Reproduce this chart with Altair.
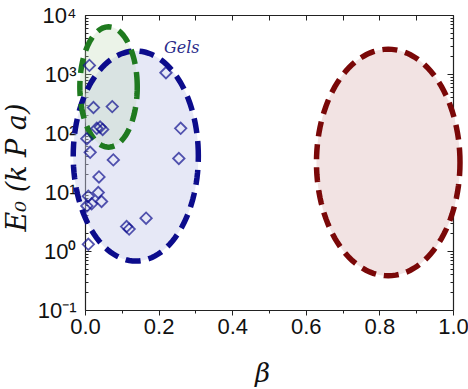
import numpy as np
import pandas as pd
import altair as alt

# ---- ellipse annotations: center (beta, log10 E0), half-width (beta), half-height (decades)
ell_names = ["gels", "green", "red"]
ell_cx = [0.138, 0.064, 0.824]
ell_cy = [1.61, 2.78, 1.50]
ell_rx = [0.170, 0.078, 0.195]
ell_ry = [1.78, 1.02, 1.92]
ell_stroke = ["#0c0c8c", "#1f7a1f", "#7a0808"]
ell_fill = ["#c8cdeb", "#bed7b4", "#f2e3e3"]
ell_fill_op = [0.45, 0.30, 1.0]

# ---- gel data points
pt_beta = [0.012, 0.023, 0.074, 0.032, 0.041, 0.048, 0.014, 0.005, 0.077, 0.038, 0.036,
           0.009, 0.045, 0.018, 0.005, 0.113, 0.120, 0.166, 0.009, 0.220, 0.260, 0.255]
pt_E0 = [1400, 270, 280, 120, 126, 115, 47, 80, 35, 18, 9.8,
         8.5, 6.9, 6.3, 5.8, 2.6, 2.35, 3.6, 1.3, 1050, 120, 37]

# ---- axis ticks
x_ticks = [0.0, 0.1, 0.2, 0.3, 0.4, 0.5, 0.6, 0.7, 0.8, 0.9, 1.0]
y_major = [0.1, 1, 10, 100, 1000, 10000]
y_minor = [round(m * 10.0 ** k, 6) for k in range(-1, 4) for m in range(2, 10)]
y_all = sorted(y_major + y_minor)

W, H = 368, 295
AX = "#222222"

def ellipse_df(k):
    t = np.linspace(0, 2 * np.pi, 121)
    return pd.DataFrame({
        "i": np.arange(len(t)),
        "beta": ell_cx[k] + ell_rx[k] * np.cos(t),
        "E0": 10 ** (ell_cy[k] + ell_ry[k] * np.sin(t)),
    })

xscale = alt.Scale(domain=[0, 1], nice=False, zero=False)
yscale = alt.Scale(type="log", domain=[0.1, 10000], nice=False)

ylab = ("datum.value < 0.5 ? '10⁻¹' : datum.value < 5 ? '10⁰' : datum.value < 50 ? '10¹' : "
        "datum.value < 500 ? '10²' : datum.value < 5000 ? '10³' : '10⁴'")
ymajor_test = "indexof([0.1,1,10,100,1000,10000], datum.value) >= 0"
xmajor_test = "round(datum.value*10) % 2 == 0"

ax_x_bottom = alt.Axis(
    values=x_ticks, grid=False, labelOverlap=False, labelFlush=False,
    labelExpr=f"{xmajor_test} ? format(datum.value, '.1f') : ''",
    tickSize={"condition": {"test": xmajor_test, "value": 5}, "value": 3},
    tickColor=AX, domainColor=AX, domainWidth=1.2,
    labelFont="Liberation Sans", labelFontSize=22, labelColor="#111", labelPadding=1,
    title="β", titleFont="DejaVu Serif", titleFontStyle="italic", titleFontWeight="normal",
    titleFontSize=26, titleColor="#111", titleX=177, titleY=63, titleBaseline="middle")
ax_x_top = alt.Axis(orient="bottom", offset=-H, values=x_ticks, grid=False, labels=False,
                    tickSize=5, tickColor=AX, domainColor=AX, domainWidth=1.2, title=None)
ax_y_left = alt.Axis(
    orient="left", values=y_major, grid=False, ticks=False, labelExpr=ylab,
    domainColor=AX, domainWidth=1.2, labelOverlap=False,
    labelFont="Liberation Sans", labelFontSize=22, labelColor="#111", labelPadding=9,
    title="E₀ (k P a)", titleFont="DejaVu Serif", titleFontStyle="italic", titleFontWeight="normal",
    titleFontSize=27, titleColor="#111", titleX=-68, titleY=152, titleBaseline="middle")
ysize = {"condition": {"test": ymajor_test, "value": 6}, "value": 3}
ax_y_in_left = alt.Axis(orient="right", offset=-W, values=y_all, grid=False, labels=False,
                        domain=False, tickSize=ysize, tickColor=AX, title=None)
ax_y_in_right = alt.Axis(orient="left", offset=-W, values=y_all, grid=False, labels=False,
                         domain=True, domainColor=AX, domainWidth=1.2, tickSize=ysize,
                         tickColor=AX, title=None)

def fill_layer(k, xax, yax):
    return alt.Chart(ellipse_df(k)).mark_line(
        fill=ell_fill[k], fillOpacity=ell_fill_op[k], strokeOpacity=0
    ).encode(
        x=alt.X("beta:Q", scale=xscale, axis=xax),
        y=alt.Y("E0:Q", scale=yscale, axis=yax),
        order="i:Q")

def outline_layer(k):
    return alt.Chart(ellipse_df(k)).mark_line(
        stroke=ell_stroke[k], strokeWidth=5.5, strokeDash=[15, 8], strokeCap="butt"
    ).encode(
        x=alt.X("beta:Q", scale=xscale, axis=None),
        y=alt.Y("E0:Q", scale=yscale, axis=None),
        order="i:Q")

fills = [fill_layer(2, ax_x_bottom, ax_y_left),
         fill_layer(0, ax_x_top, ax_y_in_left),
         fill_layer(1, None, ax_y_in_right)]
outlines = [outline_layer(2), outline_layer(0), outline_layer(1)]

points = alt.Chart(pd.DataFrame({"beta": pt_beta, "E0": pt_E0})).mark_point(
    shape="diamond", size=130, filled=False, strokeWidth=1.8, color="#10108f"
).encode(
    x=alt.X("beta:Q", scale=xscale, axis=None),
    y=alt.Y("E0:Q", scale=yscale, axis=None))

label = alt.Chart(pd.DataFrame({"beta": [0.263], "E0": [2800], "t": ["Gels"]})).mark_text(
    font="DejaVu Serif", fontStyle="italic", fontSize=16, color="#2a2a8a"
).encode(
    x=alt.X("beta:Q", scale=xscale, axis=None),
    y=alt.Y("E0:Q", scale=yscale, axis=None),
    text="t:N")

chart = alt.layer(*fills, *outlines, points, label).resolve_axis(
    x="independent", y="independent"
).properties(
    width=W, height=H, autosize=alt.AutoSizeParams(type="none"),
    padding={"left": 85, "top": 15, "right": 15, "bottom": 79},
    background="white"
).configure_view(stroke=None)

chart.save("out.html", embed_options={"renderer": "svg", "actions": False})
